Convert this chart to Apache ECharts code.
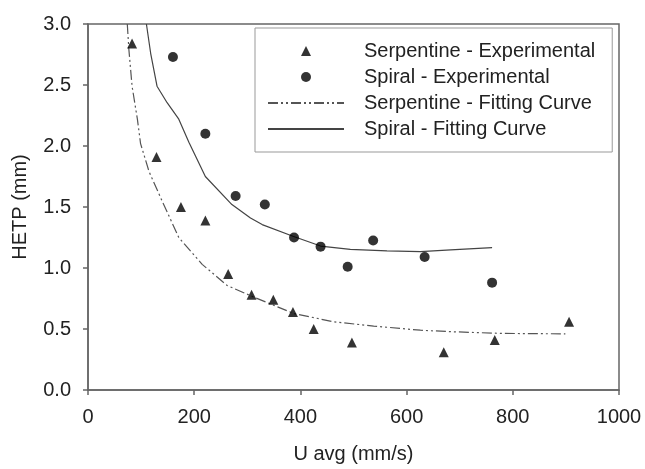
<!DOCTYPE html>
<html>
<head>
<meta charset="utf-8">
<script src="https://cdn.jsdelivr.net/npm/echarts@6/dist/echarts.min.js"></script>
<style>html,body{margin:0;padding:0;background:#fff;}#c{width:645px;height:469px;}</style>
</head>
<body>
<div id="c"></div>
<script>
// Experimental data
const serpExpU = [83, 129, 175, 221, 264, 308, 349, 386, 425, 497, 670, 766, 906];
const serpExpH = [2.84, 1.91, 1.50, 1.39, 0.95, 0.78, 0.74, 0.64, 0.50, 0.39, 0.31, 0.41, 0.56];
const spirExpU = [160, 221, 278, 333, 388, 438, 489, 537, 634, 761];
const spirExpH = [2.73, 2.10, 1.59, 1.52, 1.25, 1.175, 1.01, 1.226, 1.09, 0.88];
// Fitting curves
const serpFitU = [74, 77, 83, 93, 99, 115, 140, 171, 215, 262, 312, 388, 463, 538, 626, 683, 777, 899];
const serpFitH = [3.0, 2.79, 2.49, 2.22, 2.02, 1.79, 1.545, 1.25, 1.03, 0.857, 0.762, 0.626, 0.559, 0.524, 0.49, 0.478, 0.464, 0.46];
const spirFitU = [110, 118, 130, 149, 171, 190, 221, 271, 306, 328, 386, 438, 494, 563, 626, 683, 761];
const spirFitH = [3.0, 2.76, 2.49, 2.355, 2.22, 2.03, 1.75, 1.52, 1.41, 1.356, 1.26, 1.18, 1.153, 1.14, 1.134, 1.148, 1.167];
const seriesNames = ['Serpentine - Experimental', 'Spiral - Experimental', 'Serpentine - Fitting Curve', 'Spiral - Fitting Curve'];
const xTitle = 'U avg (mm/s)';
const yTitle = 'HETP (mm)';

const zip = (a, b) => a.map((v, i) => [v, b[i]]);
const font = 'Liberation Sans, Arial, sans-serif';
const triPath = 'path://M5,0L10,10L0,10Z';
const chart = echarts.init(document.getElementById('c'), null, {renderer: 'canvas'});
chart.setOption({
  animation: false,
  backgroundColor: '#fff',
  textStyle: {fontFamily: font},
  grid: {left: 88, top: 24, right: 26, bottom: 75, show: true, borderColor: '#666', borderWidth: 1.5, backgroundColor: 'transparent'},
  xAxis: {
    type: 'value', min: 0, max: 1000, interval: 200,
    name: xTitle, nameLocation: 'middle', nameGap: 54,
    nameTextStyle: {fontSize: 20, color: '#222', fontFamily: font},
    axisLine: {show: true, onZero: false, lineStyle: {color: '#666', width: 1.5}},
    axisTick: {show: true, inside: false, length: 5, lineStyle: {color: '#666', width: 1.5}},
    axisLabel: {fontSize: 20, color: '#222', margin: 17, fontFamily: font, formatter: v => String(v)},
    splitLine: {show: false}
  },
  yAxis: {
    type: 'value', min: 0, max: 3, interval: 0.5,
    name: yTitle, nameLocation: 'middle', nameGap: 58, nameRotate: 90,
    nameTextStyle: {fontSize: 20, color: '#222', fontFamily: font},
    axisLine: {show: true, onZero: false, lineStyle: {color: '#666', width: 1.5}},
    axisTick: {show: true, inside: false, length: 5, lineStyle: {color: '#666', width: 1.5}},
    axisLabel: {fontSize: 20, color: '#222', margin: 17, fontFamily: font, formatter: v => v.toFixed(1)},
    splitLine: {show: false}
  },
  legend: {
    orient: 'vertical', left: 255, top: 28,
    data: [
      {name: seriesNames[0], icon: triPath},
      {name: seriesNames[1], icon: 'circle'},
      {name: seriesNames[2], itemStyle: {opacity: 0}},
      {name: seriesNames[3], itemStyle: {opacity: 0}}
    ],
    symbolKeepAspect: true,
    itemWidth: 76, itemHeight: 10, itemGap: 6,
    padding: [13, 17, 13, 12],
    borderColor: '#999', borderWidth: 1,
    textStyle: {fontSize: 20, color: '#222', fontFamily: font, padding: [0, 0, 0, 15]}
  },
  series: [
    {name: seriesNames[0], type: 'scatter', symbol: triPath, symbolSize: 10,
     itemStyle: {color: '#000'}, data: zip(serpExpU, serpExpH), z: 5},
    {name: seriesNames[1], type: 'scatter', symbol: 'circle', symbolSize: 10,
     itemStyle: {color: '#000'}, data: zip(spirExpU, spirExpH), z: 5},
    {name: seriesNames[2], type: 'line', symbol: 'none', smooth: false, clip: true,
     lineStyle: {color: '#555', width: 1.2, type: [10, 3, 2, 3, 2, 3]},
     itemStyle: {color: '#555'}, data: zip(serpFitU, serpFitH)},
    {name: seriesNames[3], type: 'line', symbol: 'none', smooth: false, clip: true,
     lineStyle: {color: '#444', width: 1.2, type: 'solid'},
     itemStyle: {color: '#444'}, data: zip(spirFitU, spirFitH)}
  ]
});
</script>
</body>
</html>
